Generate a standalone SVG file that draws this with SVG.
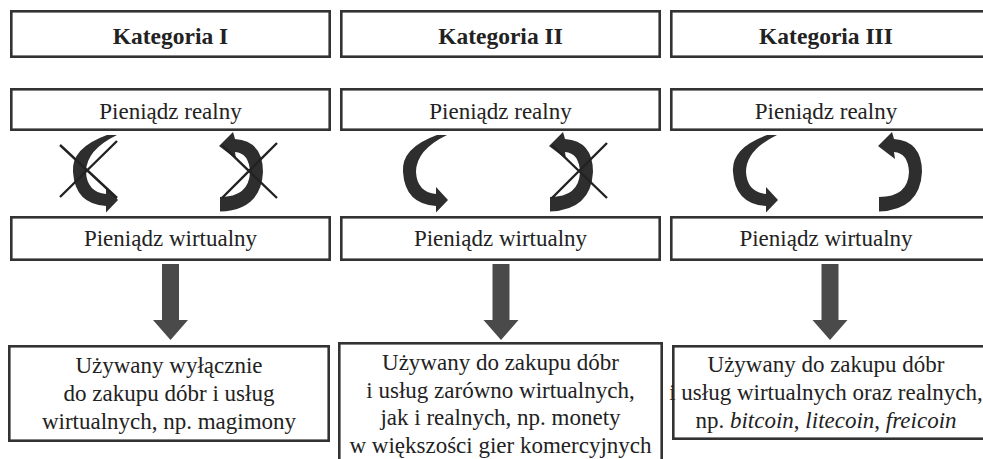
<svg xmlns="http://www.w3.org/2000/svg" xmlns:xlink="http://www.w3.org/1999/xlink" width="983" height="459" viewBox="0 0 983 459">
<style>
.box{fill:#fff;stroke:#333;stroke-width:2.6}
.t{font-family:"Liberation Serif","Times New Roman",serif;font-size:23px;fill:#222;text-anchor:middle}
.h{font-weight:bold;font-size:23.5px}
.cur{fill:#2e2e2e}
.big{fill:#4a4a4a}
.x{stroke:#222;stroke-width:2.4;fill:none}
</style>
<defs>
<path id="arrL" d="M 107,135 Q 71,148 73,172 Q 75,204 106,206 L 106,212.5 L 118,200 L 106,187 L 106,194 Q 87,192 86,172 Q 86,150 117,135 Z"/>
<path id="arrR" d="M 220,197 L 220,211.5 Q 261,210 263,172 Q 263,141 235,139 L 233,132 L 219,146 L 236,159 L 235,152 Q 249,153 250,172 Q 249,197 220,197 Z"/>
<path id="xL" d="M 60,145 L 117,198 M 60,197 L 117,141"/>
<path id="xR" d="M 222,145 L 277,198 M 222,198 L 277,143"/>
<polygon id="down" points="162,264 179,264 179,320 188,320 170.5,340 153,320 162,320"/>
</defs>

<g id="k1"><rect class="box" x="11.3" y="11.3" width="318.4" height="45.4"/><text class="t h" x="170.5" y="44">Kategoria I</text></g>
<g id="k2"><rect class="box" x="341.3" y="11.3" width="318.4" height="45.4"/><text class="t h" x="500.5" y="44">Kategoria II</text></g>
<g id="k3"><rect class="box" x="671.3" y="11.3" width="316" height="45.4"/><text class="t h" x="826" y="44">Kategoria III</text></g>

<g id="r1"><rect class="box" x="11.3" y="89.3" width="318.4" height="40.4"/><text class="t" x="170.5" y="119">Pieniądz realny</text></g>
<g id="r2"><rect class="box" x="341.3" y="89.3" width="318.4" height="40.4"/><text class="t" x="500.5" y="119">Pieniądz realny</text></g>
<g id="r3"><rect class="box" x="671.3" y="89.3" width="316" height="40.4"/><text class="t" x="826" y="119">Pieniądz realny</text></g>

<g id="v1"><rect class="box" x="11.3" y="217.3" width="318.4" height="42.4"/><text class="t" x="170.5" y="246">Pieniądz wirtualny</text></g>
<g id="v2"><rect class="box" x="341.3" y="217.3" width="318.4" height="42.4"/><text class="t" x="500.5" y="246">Pieniądz wirtualny</text></g>
<g id="v3"><rect class="box" x="671.3" y="217.3" width="316" height="42.4"/><text class="t" x="826" y="246">Pieniądz wirtualny</text></g>

<g id="u1"><rect class="box" x="9.3" y="346.3" width="319.4" height="94.4"/>
<text class="t" x="169" y="373">Używany wyłącznie</text>
<text class="t" x="169" y="401">do zakupu dóbr i usług</text>
<text class="t" x="169" y="429">wirtualnych, np. magimony</text></g>
<g id="u2"><rect class="box" x="339.3" y="343.3" width="322.4" height="130"/>
<text class="t" x="500.5" y="370">Używany do zakupu dóbr</text>
<text class="t" x="500.5" y="397.5">i usług zarówno wirtualnych,</text>
<text class="t" x="500.5" y="425">jak i realnych, np. monety</text>
<text class="t" x="500.5" y="452.5">w większości gier komercyjnych</text></g>
<g id="u3"><rect class="box" x="673.3" y="346.3" width="314" height="92.4"/>
<text class="t" x="826" y="372">Używany do zakupu dóbr</text>
<text class="t" x="826" y="400">i usług wirtualnych oraz realnych,</text>
<text class="t" x="826" y="428">np. <tspan font-style="italic">bitcoin</tspan>, <tspan font-style="italic">litecoin</tspan>, <tspan font-style="italic">freicoin</tspan></text></g>

<g id="connectors">
<use xlink:href="#arrL" class="cur"/>
<use xlink:href="#arrR" class="cur"/>
<use xlink:href="#xL" class="x"/>
<use xlink:href="#xR" class="x"/>
<use xlink:href="#arrL" class="cur" transform="translate(330,0)"/>
<use xlink:href="#arrR" class="cur" transform="translate(330,0)"/>
<use xlink:href="#xR" class="x" transform="translate(330,0)"/>
<use xlink:href="#arrL" class="cur" transform="translate(660,0)"/>
<use xlink:href="#arrR" class="cur" transform="translate(659,0)"/>
<use xlink:href="#down" class="big"/>
<use xlink:href="#down" class="big" transform="translate(330.5,0)"/>
<use xlink:href="#down" class="big" transform="translate(659.5,0)"/>
</g>
</svg>
